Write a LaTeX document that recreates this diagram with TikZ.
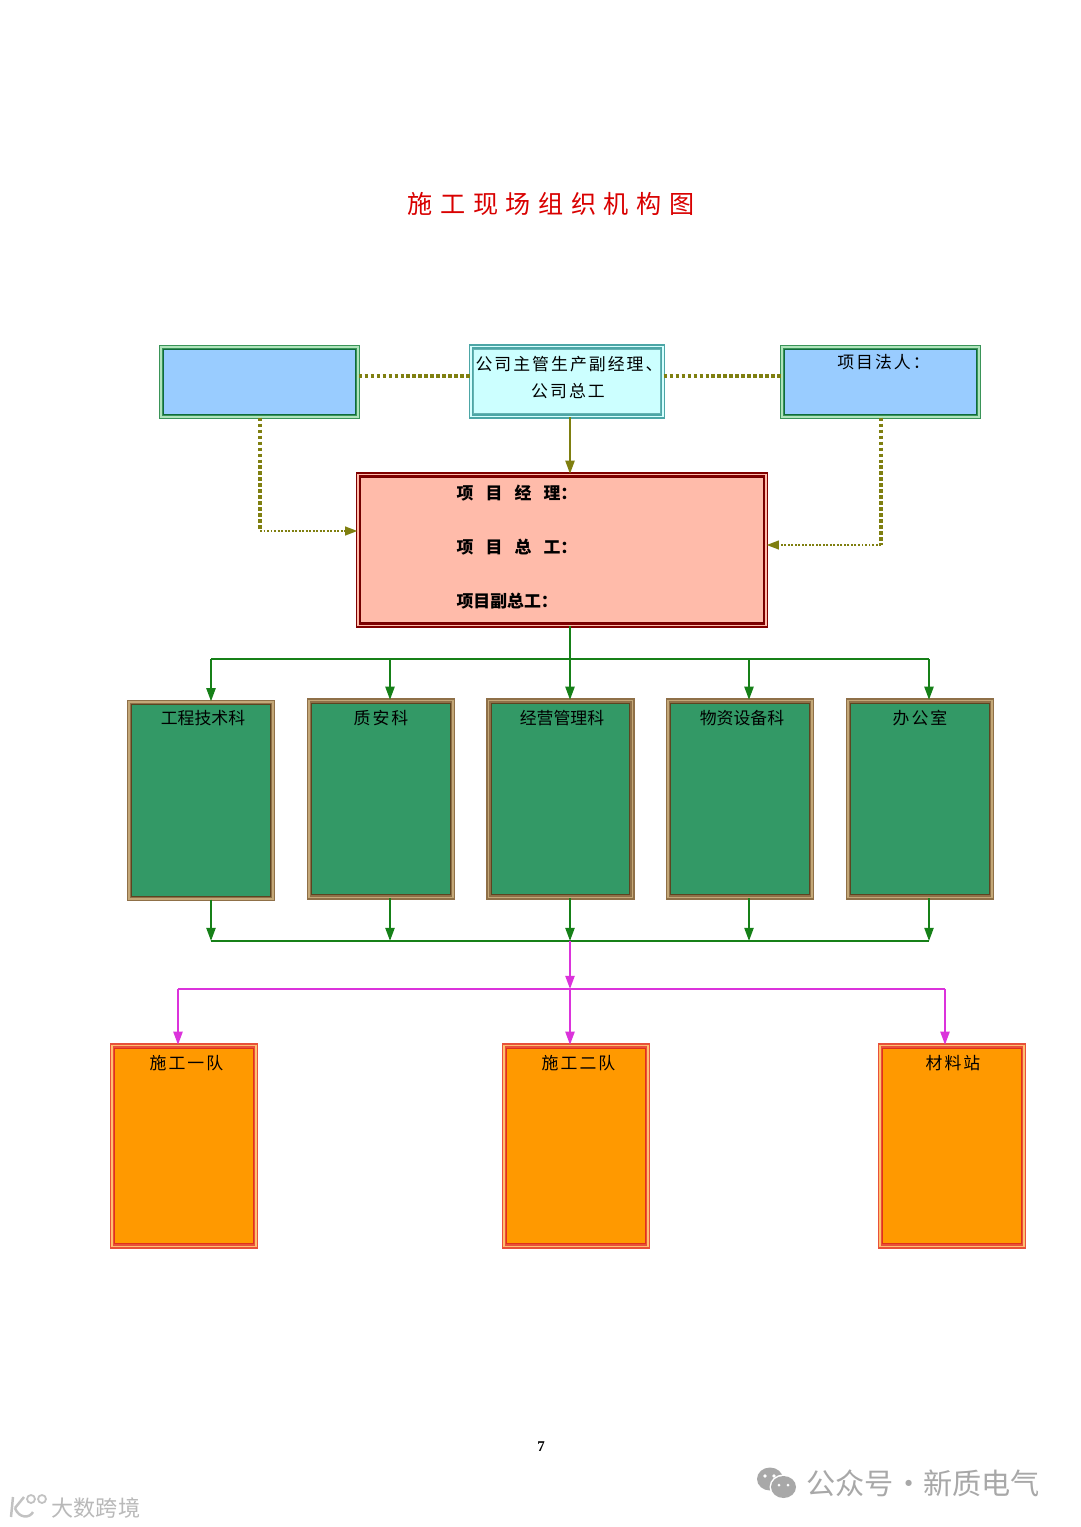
\documentclass[tikz,border=0pt]{standalone}
\usepackage{fontspec}
\setmainfont{Noto Sans CJK SC}
\newfontfamily\pagefont{Liberation Serif}
\newfontfamily\widefont[LetterSpace=30]{Noto Sans CJK SC}
\newfontfamily\namefont[LetterSpace=72]{Noto Sans CJK SC}
\newfontfamily\looseone[LetterSpace=12]{Noto Sans CJK SC}
\usetikzlibrary{arrows.meta,calc}

\definecolor{bluefill}{HTML}{99CCFF}
\definecolor{cyanfill}{HTML}{CCFFFF}
\definecolor{pinkfill}{HTML}{FFBBAA}
\definecolor{deptfill}{HTML}{339966}
\definecolor{teamfill}{HTML}{FF9900}
\definecolor{olivedot}{HTML}{7F7F10}
\definecolor{busgreen}{HTML}{168018}
\definecolor{busmagenta}{HTML}{DB33DB}
\definecolor{markgray}{HTML}{A8A8A8}
\definecolor{owneredge}{HTML}{3A9458}
\definecolor{ownergap}{HTML}{B0E4BC}
\definecolor{ownerrule}{HTML}{0F6B3C}
\definecolor{deptedge}{HTML}{8F7048}
\definecolor{deptgap}{HTML}{C4A878}
\definecolor{deptrule}{HTML}{5C4420}
\definecolor{teamedge}{HTML}{E8503A}
\definecolor{teamgap}{HTML}{FFC070}
\definecolor{teamrule}{HTML}{E0301C}

\begin{document}
\begin{tikzpicture}[x=0.02cm, y=-0.02cm, line width=0.7pt,
    every node/.style={font=\fontsize{9.6pt}{11pt}\selectfont, inner sep=0pt},
    innerrule/.style={path picture={\draw[#1, line width=3.8pt] (path picture bounding box.south west) rectangle (path picture bounding box.north east);}},
    boxbase/.style={rectangle, double, line width=0.8pt, double distance=0.8pt},
    ownerbox/.style={boxbase, draw=owneredge, double=ownergap, fill=bluefill, innerrule=ownerrule, minimum width=3.94cm, minimum height=1.40cm},
    companybox/.style={boxbase, draw=teal!70!white, double=cyanfill!80!white, fill=cyanfill, innerrule=teal!60!white, minimum width=3.84cm, minimum height=1.40cm},
    managerbox/.style={boxbase, draw=red!50!black, double=pinkfill, fill=pinkfill, innerrule=red!45!black, minimum width=8.16cm, minimum height=3.02cm},
    deptbox/.style={boxbase, draw=deptedge, double=deptgap, fill=deptfill, innerrule=deptrule, minimum width=2.88cm, minimum height=3.94cm},
    teambox/.style={boxbase, draw=teamedge, double=teamgap, fill=teamfill, innerrule=teamrule, minimum width=2.88cm, minimum height=4.02cm},
    dotline/.style={olivedot, line width=2pt, dash pattern=on 2pt off 1.4pt},
    dotarrow/.style={olivedot, line width=1.1pt, dash pattern=on 1.1pt off 0.9pt, -{Triangle[length=7pt,width=5pt]}},
    greenarrow/.style={busgreen, line width=1.1pt, -{Triangle[length=7.5pt,width=5.2pt]}},
    greenbus/.style={busgreen, line width=1.6pt},
    pinkarrow/.style={busmagenta, line width=1.1pt, -{Triangle[length=7.5pt,width=5.2pt]}},
    pinkbus/.style={busmagenta, line width=1.5pt},
    spaced/.style={font=\fontsize{9.6pt}{11pt}\selectfont\looseone},
    markdrop/.style={markgray}]
  \useasboundingbox (0,0) rectangle (1080,1527);
  \fill[white] (0,0) rectangle (1080,1527);

  \node[red!85!black, font=\fontsize{14.3pt}{16pt}\selectfont\widefont] (title) at (551,204) {施工现场组织机构图};

  \node[ownerbox] (supervisor) at (259.5,382) {};
  \node[companybox] (company) at (567,381.5) {};
  \node[ownerbox] (owner) at (880.5,382) {};
  \node[managerbox] (manager) at (562,550) {};

  \node[spaced] (companyone) at (569,364) {公司主管生产副经理、};
  \node[spaced] (companytwo) at (568,391) {公司总工};
  \node[spaced] (ownerlabel) at (883.5,362) {项目法人：};
  \node[anchor=west, font=\fontsize{9.6pt}{11pt}\selectfont\bfseries] (managerone) at (456,493) {{\namefont 项目经}\hspace{6.9pt}理：};
  \node[anchor=west, font=\fontsize{9.6pt}{11pt}\selectfont\bfseries] (managertwo) at (456,547) {{\namefont 项目总}\hspace{6.9pt}工：};
  \node[anchor=west, font=\fontsize{9.6pt}{11pt}\selectfont\bfseries] (managerthree) at (456,601) {项目副总工：};

  \node[deptbox] (tech) at (201,800.5) {};
  \node[deptbox] (quality) at (381,799) {};
  \node[deptbox] (business) at (560.5,799) {};
  \node[deptbox] (supply) at (740,799) {};
  \node[deptbox] (office) at (920,799) {};

  \node (techlabel) at (203,718) {工程技术科};
  \node[spaced] (qualitylabel) at (381,718) {质安科};
  \node (businesslabel) at (562,718) {经营管理科};
  \node (supplylabel) at (742,718) {物资设备科};
  \node[spaced] (officelabel) at (920,718) {办公室};

  \node[teambox] (teamone) at (184,1146) {};
  \node[teambox] (teamtwo) at (576,1146) {};
  \node[teambox] (depot) at (952,1146) {};

  \node[spaced] (teamonelabel) at (186.5,1063) {施工一队};
  \node[spaced] (teamtwolabel) at (578.5,1063) {施工二队};
  \node[spaced] (depotlabel) at (953,1063) {材料站};

  \coordinate (dotrow) at (0,376);
  \coordinate (leftdrop) at (260,531);
  \coordinate (rightdrop) at (881,545);
  \coordinate (axis) at (570,659);
  \coordinate (uppertech) at (211,659);
  \coordinate (upperquality) at (390,659);
  \coordinate (uppersupply) at (749,659);
  \coordinate (upperoffice) at (929,659);
  \coordinate (lowertech) at (211,941);
  \coordinate (lowerquality) at (390,941);
  \coordinate (lowerbusiness) at (570,941);
  \coordinate (lowersupply) at (749,941);
  \coordinate (loweroffice) at (929,941);
  \coordinate (teamaxis) at (570,989);
  \coordinate (teamleft) at (178,989);
  \coordinate (teamright) at (945,989);

  \draw[dotline] (supervisor.east |- dotrow) -- (company.west |- dotrow);
  \draw[dotline] (company.east |- dotrow) -- (owner.west |- dotrow);
  \draw[dotline] (supervisor.south -| leftdrop) -- (leftdrop);
  \draw[dotarrow] (leftdrop) -- (manager.west |- leftdrop);
  \draw[dotline] (owner.south -| rightdrop) -- (rightdrop);
  \draw[dotarrow] (rightdrop) -- (manager.east |- rightdrop);
  \draw[olivedot, line width=1.1pt, -{Triangle[length=7.5pt,width=5.2pt]}] (company.south -| axis) -- (manager.north -| axis);

  \draw[greenbus] (manager.south -| axis) -- (axis);
  \draw[greenbus] (uppertech) -- (upperoffice);
  \draw[greenarrow] (uppertech) -- (tech.north -| uppertech);
  \draw[greenarrow] (upperquality) -- (quality.north -| upperquality);
  \draw[greenarrow] (axis) -- (business.north -| axis);
  \draw[greenarrow] (uppersupply) -- (supply.north -| uppersupply);
  \draw[greenarrow] (upperoffice) -- (office.north -| upperoffice);

  \draw[greenarrow] (tech.south -| lowertech) -- (lowertech);
  \draw[greenarrow] (quality.south -| lowerquality) -- (lowerquality);
  \draw[greenarrow] (business.south -| lowerbusiness) -- (lowerbusiness);
  \draw[greenarrow] (supply.south -| lowersupply) -- (lowersupply);
  \draw[greenarrow] (office.south -| loweroffice) -- (loweroffice);
  \draw[greenbus] (lowertech) -- (loweroffice);

  \draw[pinkarrow] (lowerbusiness) -- (teamaxis);
  \draw[pinkbus] (teamleft) -- (teamright);
  \draw[pinkarrow] (teamleft) -- (teamone.north -| teamleft);
  \draw[pinkarrow] (teamaxis) -- (teamtwo.north -| teamaxis);
  \draw[pinkarrow] (teamright) -- (depot.north -| teamright);

  \node[font=\fontsize{8.5pt}{10pt}\selectfont\bfseries\pagefont] (pagenumber) at (541,1447) {7};

  \fill[markdrop] (770,1479) ellipse (13 and 11.5);
  \fill[white] (783.5,1487) ellipse (14 and 12.5);
  \fill[markdrop] (783.5,1487) ellipse (12.5 and 11);
  \fill[white] (765,1476) circle (1.8);
  \fill[white] (774,1476) circle (1.8);
  \fill[white] (779,1485) circle (1.5);
  \fill[white] (788,1485) circle (1.5);
  \node[markgray, anchor=west, font=\fontsize{16.6pt}{18pt}\selectfont] (wechatmark) at (806,1483) {公众号·新质电气};

  \draw[markgray!70!white, line width=1.4pt] (13,1497) -- (11,1517) (15,1508) -- (24,1497) (15,1508) .. controls (19,1519) and (30,1518) .. (33,1512);
  \draw[markgray!70!white, line width=1pt] (31,1499) circle (4) (42,1499) circle (4);
  \node[markgray!80!white, anchor=west, font=\fontsize{12.6pt}{14pt}\selectfont] (crossmark) at (51,1508) {大数跨境};
\end{tikzpicture}
\end{document}
